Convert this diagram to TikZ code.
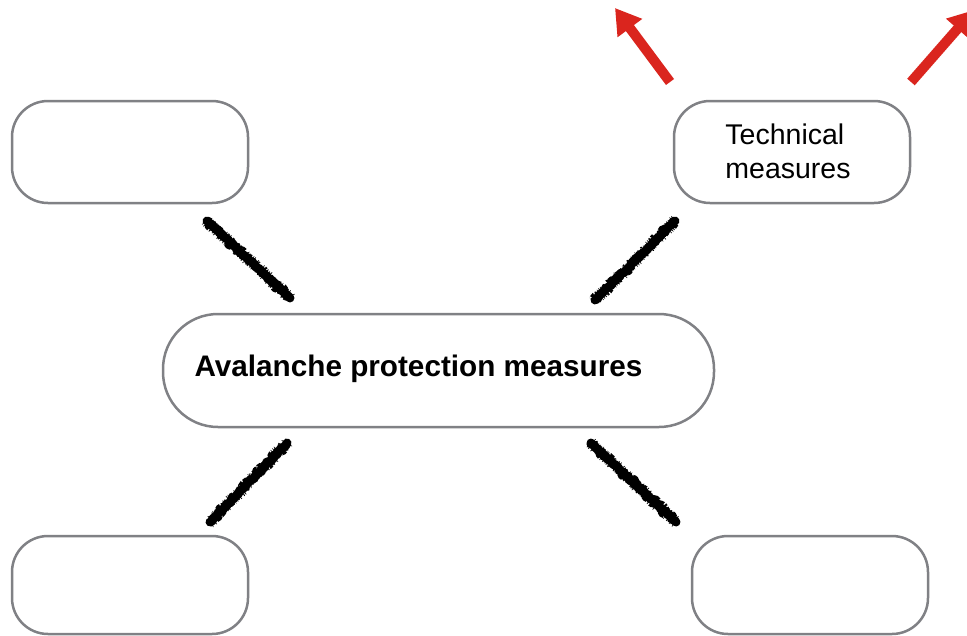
\documentclass[tikz,border=0pt]{standalone}
\usepackage{fontspec}
\setmainfont{Liberation Sans}
\usetikzlibrary{arrows.meta,decorations.pathmorphing}
\definecolor{boxgray}{RGB}{128,129,133}
\definecolor{arrowred}{RGB}{218,37,30}
\begin{document}
\begin{tikzpicture}[x=1pt,y=-1pt,
  box/.style={draw=boxgray, line width=2.5pt, rounded corners=36pt, minimum width=236pt, minimum height=102pt, inner sep=0pt, fill=white},
  bigbox/.style={draw=boxgray, line width=2.5pt, rounded corners=55pt, minimum width=551pt, minimum height=113pt, inner sep=0pt, fill=white},
  rough/.style={line width=9pt, black, line join=round, line cap=round, decorate, decoration={random steps, segment length=1.5pt, amplitude=0.9pt}},
  roughedge/.style={line width=12pt, black, line join=round, dash pattern=on 0.6pt off 1.6pt, decorate, decoration={random steps, segment length=2pt, amplitude=1pt}},
  redarrow/.style={draw=arrowred, line width=10pt, -{Triangle[length=25pt,width=29pt]}, arrowred}
]
\clip (0,0) rectangle (967,635);
\fill[white] (0,0) rectangle (967,635);

\node[box] (tl) at (130,152) {};
\node[box] (tr) at (792,152) {};
\node[box, minimum height=98pt] (bl) at (130,585) {};
\node[box, minimum height=98pt] (br) at (810,585) {};
\node[bigbox] (c) at (438.5,370.5) {};

\node[font=\fontsize{28.5}{34}\selectfont, align=left, inner sep=0pt] (ttext) at (788,151) {Technical\\measures};
\node[font=\bfseries\fontsize{29.7}{35}\selectfont, inner sep=0pt] (ctext) at (418.5,369) {Avalanche protection measures};

% rough connectors
\coordinate (tls) at (207,221);
\coordinate (tle) at (290,298);
\coordinate (trs) at (675,221);
\coordinate (tre) at (595,300);
\coordinate (bls) at (287,443);
\coordinate (ble) at (210,522);
\coordinate (brs) at (591,443);
\coordinate (bre) at (676,522);
\foreach \s/\e in {tls/tle, trs/tre, bls/ble, brs/bre}{
  \draw[rough] (\s) -- (\e);
  \draw[roughedge] (\s) -- (\e);
}

% red arrows
\coordinate (a1s) at (670,82);
\coordinate (a1e) at (615,8);
\coordinate (a2s) at (911,82);
\coordinate (a2e) at (974,10);
\draw[redarrow] (a1s) -- (a1e);
\draw[redarrow] (a2s) -- (a2e);
\end{tikzpicture}
\end{document}
